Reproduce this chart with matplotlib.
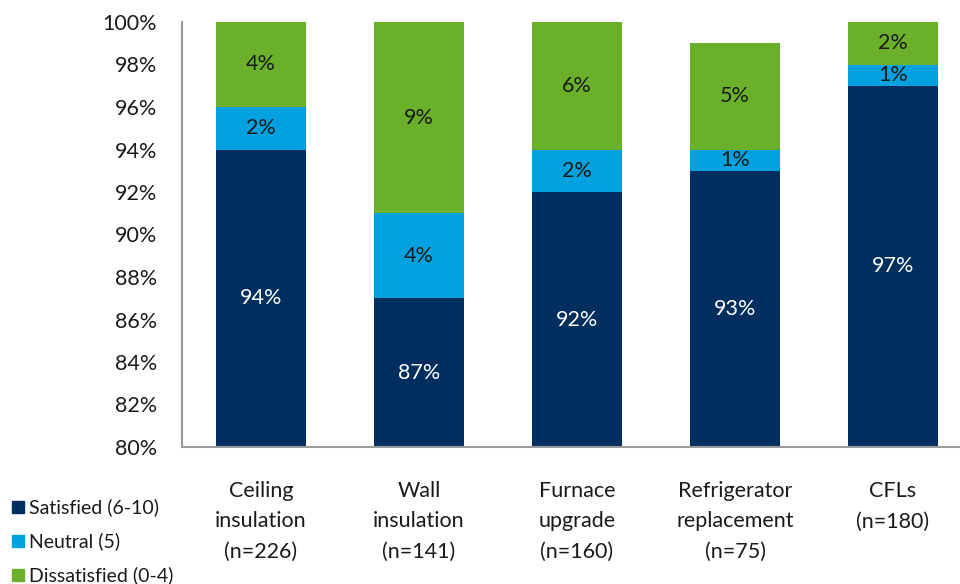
import numpy as np
import matplotlib.pyplot as plt
from matplotlib.patches import Rectangle

plt.rcParams['font.family'] = ['Lato', 'DejaVu Sans']

categories = ["Ceiling\ninsulation\n(n=226)", "Wall\ninsulation\n(n=141)", "Furnace\nupgrade\n(n=160)",
              "Refrigerator\nreplacement\n(n=75)", "CFLs\n(n=180)"]
satisfied = [94, 87, 92, 93, 97]
neutral = [2, 4, 2, 1, 1]
dissatisfied = [4, 9, 6, 5, 2]
series_labels = ["Satisfied (6-10)", "Neutral (5)", "Dissatisfied (0-4)"]
colors = ['#002F5F', '#00A1DE', '#6BB02A']
text_colors = ['white', '#1a1a1a', '#1a1a1a']

W, H = 960, 584
fig = plt.figure(figsize=(W / 100, H / 100), dpi=100)
# axes box in pixels: left 182, top 22, bottom 447, spacing 158 px per category
ax = fig.add_axes([182 / W, (H - 447) / H, 790 / W, 425 / H])

ymin, ymax = 80, 100
x = np.arange(len(categories))
width = 0.57
bottom = np.zeros(len(categories))
for vals, col, tcol in zip([satisfied, neutral, dissatisfied], colors, text_colors):
    vals = np.asarray(vals, dtype=float)
    ax.bar(x, vals, width=width, bottom=bottom, color=col, edgecolor='none')
    for xi, b, v in zip(x, bottom, vals):
        lo = max(b, ymin)
        ax.text(xi, (lo + b + v) / 2, f"{v:.0f}%", ha='center', va='center',
                color=tcol, fontsize=15.5)
    bottom += vals

ax.set_xlim(-0.5, 4.5)
ax.set_ylim(ymin, ymax)
ax.set_yticks(np.arange(80, 101, 2))
ax.set_yticklabels([f"{t}%" for t in range(80, 101, 2)])
ax.tick_params(axis='y', length=0, pad=18, labelsize=15.5, labelcolor='#1a1a1a')
ax.set_xticks([])
for s in ['top', 'right']:
    ax.spines[s].set_visible(False)
for s in ['left', 'bottom']:
    ax.spines[s].set_color('#9a9a9a')
    ax.spines[s].set_linewidth(1.5)

# category labels below the axis
for xi, cat in zip(x, categories):
    ax.text(xi, -0.08, cat, transform=ax.get_xaxis_transform(), ha='center', va='top',
            fontsize=15.5, color='#1a1a1a', linespacing=1.65)

# legend with square swatches at bottom left
for i, (lab, col) in enumerate(zip(series_labels, colors)):
    yp = H - (507 + 34 * i)
    fig.patches.append(Rectangle((12 / W, (yp - 6) / H), 12 / W, 12 / H, color=col,
                                 transform=fig.transFigure, figure=fig))
    fig.text(29 / W, yp / H, lab, ha='left', va='center', fontsize=14, color='#1a1a1a')

fig.savefig('out.png', dpi=100)
